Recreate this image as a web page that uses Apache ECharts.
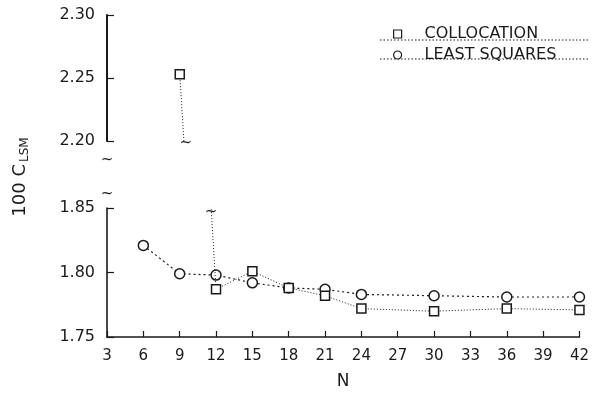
<!DOCTYPE html>
<html><head><meta charset="utf-8">
<script src="https://cdn.jsdelivr.net/npm/echarts@6/dist/echarts.min.js"></script>
<style>html,body{margin:0;padding:0;background:#fff}#c{width:592px;height:398px}</style>
</head><body><div id="c"></div>
<script>
// ---- data ----
const nCollocation = [9, 12, 15, 18, 21, 24, 30, 36, 42];
const collocation  = [2.253, 1.787, 1.801, 1.788, 1.782, 1.772, 1.770, 1.772, 1.771];
const nLeastSq     = [6, 9, 12, 15, 18, 21, 24, 30, 36, 42];
const leastSquares = [1.821, 1.799, 1.798, 1.792, 1.788, 1.787, 1.783, 1.782, 1.781, 1.781];
const xRange = [3, 42], xStep = 3;
const upperRange = [2.20, 2.30], lowerRange = [1.75, 1.85], yStep = 0.05;
const seriesNames = ['COLLOCATION', 'LEAST SQUARES'];

const ink = '#1a1a1a';
const font = 'DejaVu Sans';
const pairs = (xs, ys) => xs.map((x, i) => [x, ys[i]]);

const chart = echarts.init(document.getElementById('c'), null, {renderer: 'canvas'});
const yAxisBase = (range, idx) => ({
  gridIndex: idx, type: 'value', min: range[0], max: range[1], interval: yStep,
  axisLine: {show: true, lineStyle: {color: ink, width: idx === 0 ? 2 : 1.6}},
  axisTick: {show: true, inside: true, length: 7, lineStyle: {color: ink, width: 1.2}},
  axisLabel: {color: ink, fontFamily: font, fontSize: 16, margin: 12, formatter: v => v.toFixed(2)},
  splitLine: {show: false}
});
const option = {
  animation: false,
  backgroundColor: '#fff',
  grid: [
    {left: 107, right: 12, top: 15, height: 126},
    {left: 107, right: 12, top: 208, height: 129}
  ],
  xAxis: [
    {gridIndex: 0, type: 'value', min: xRange[0], max: xRange[1], interval: xStep, show: false},
    {gridIndex: 1, type: 'value', min: xRange[0], max: xRange[1], interval: xStep,
     name: 'N', nameLocation: 'middle', nameGap: 36,
     nameTextStyle: {color: ink, fontFamily: font, fontSize: 17},
     axisLine: {show: true, lineStyle: {color: ink, width: 1.6}},
     axisTick: {show: true, inside: true, length: 6, lineStyle: {color: ink, width: 1.2}},
     axisLabel: {color: ink, fontFamily: font, fontSize: 15, margin: 12},
     splitLine: {show: false}}
  ],
  yAxis: [yAxisBase(upperRange, 0), yAxisBase(lowerRange, 1)],
  legend: {
    left: 388, top: 21, orient: 'vertical', itemGap: 5, itemWidth: 8, itemHeight: 8,
    selectedMode: false,
    textStyle: {color: ink, fontFamily: font, fontSize: 16, padding: [0, 0, 0, 18]},
    data: [
      {name: seriesNames[0], icon: 'rect', itemStyle: {color: '#fff', borderColor: ink, borderWidth: 1.2}},
      {name: seriesNames[1], icon: 'circle', itemStyle: {color: '#fff', borderColor: ink, borderWidth: 1.2}}
    ]
  },
  series: [
    {name: seriesNames[0], type: 'line', xAxisIndex: 0, yAxisIndex: 0, clip: true,
     data: pairs(nCollocation, collocation), symbol: 'rect', symbolSize: 9,
     itemStyle: {color: '#fff', borderColor: ink, borderWidth: 1.5},
     lineStyle: {color: ink, width: 1, type: [1, 2]}},
    {name: seriesNames[0], type: 'line', xAxisIndex: 1, yAxisIndex: 1, clip: true,
     data: pairs(nCollocation, collocation), symbol: 'rect', symbolSize: 9,
     itemStyle: {color: '#fff', borderColor: ink, borderWidth: 1.5},
     lineStyle: {color: ink, width: 1, type: [1, 2]}, z: 3},
    {name: seriesNames[1], type: 'line', xAxisIndex: 1, yAxisIndex: 1, clip: true,
     data: pairs(nLeastSq, leastSquares), symbol: 'circle', symbolSize: 10,
     itemStyle: {color: '#fff', borderColor: ink, borderWidth: 1.5},
     lineStyle: {color: ink, width: 1.2, type: [2, 3]}, z: 2}
  ]
};
chart.setOption(option);

// break markers (~) where the collocation line leaves each panel, and on the y axis
const x0 = nCollocation[0], x1 = nCollocation[1], y0 = collocation[0], y1 = collocation[1];
const crossAt = yv => x0 + (x1 - x0) * (y0 - yv) / (y0 - y1);
const pUp = chart.convertToPixel({gridIndex: 0}, [crossAt(upperRange[0]), upperRange[0]]);
const pLo = chart.convertToPixel({gridIndex: 1}, [crossAt(lowerRange[1]), lowerRange[1]]);
const axUp = chart.convertToPixel({gridIndex: 0}, [xRange[0], upperRange[0]]);
const axLo = chart.convertToPixel({gridIndex: 1}, [xRange[0], lowerRange[1]]);
const tilde = (x, y) => ({type: 'text', x: x, y: y, style: {text: '~', fill: ink, font: '15px ' + font, align: 'center', verticalAlign: 'middle'}});
const dotted = (y) => ({type: 'line', shape: {x1: 380, y1: y, x2: 590, y2: y}, style: {stroke: ink, lineWidth: 1, lineDash: [1.5, 2]}});
chart.setOption({graphic: [
  tilde(pUp[0] + 2, pUp[1] + 2),
  tilde(pLo[0], pLo[1] + 4),
  tilde(axUp[0], axUp[1] + 19),
  tilde(axLo[0], axLo[1] - 14),
  dotted(40), dotted(59),
  {type: 'text', x: 20, y: 177, rotation: Math.PI / 2,
   style: {text: '{a|100 C}{s|LSM}', align: 'center', verticalAlign: 'middle',
     rich: {a: {fill: ink, font: '18px ' + font}, s: {fill: ink, font: '12px ' + font, padding: [10, 0, 0, 2]}}}}
]});
</script></body></html>
